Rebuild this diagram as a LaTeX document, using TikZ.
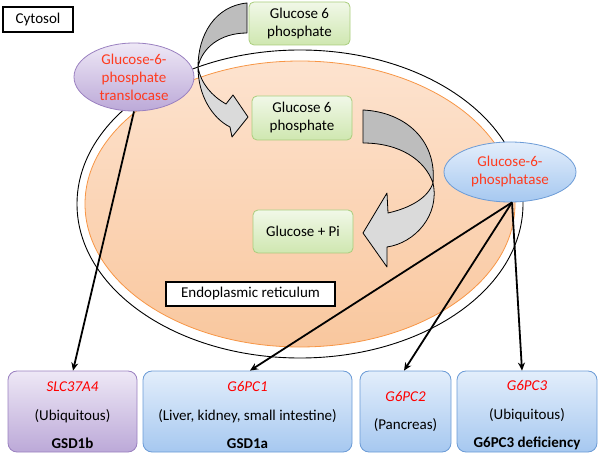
\documentclass[tikz,border=0pt]{standalone}
\usepackage{fontspec}
\setmainfont{Carlito}
\usetikzlibrary{shapes.geometric,arrows.meta,calc}
\definecolor{grnbd}{HTML}{A9CD7C}
\definecolor{grntop}{HTML}{F1F8E8}
\definecolor{grnbot}{HTML}{CFE7B0}
\definecolor{blubd}{HTML}{6B9BD6}
\definecolor{blutop}{HTML}{E3EEFB}
\definecolor{blubot}{HTML}{A6C8F0}
\definecolor{purbd}{HTML}{9A80C0}
\definecolor{purtop}{HTML}{EEE8F6}
\definecolor{purbot}{HTML}{BCA9D8}
\definecolor{orgbd}{HTML}{F79646}
\definecolor{orgtop}{HTML}{FDE3CF}
\definecolor{orgbot}{HTML}{F9C79E}
\definecolor{enzred}{HTML}{FF3B1F}
\definecolor{genred}{HTML}{FF0000}
\definecolor{arrdark}{HTML}{BDBDBD}
\definecolor{arrlight}{HTML}{DADADA}
\newcommand{\topstrut}{\rule{0pt}{18pt}}
\begin{document}
\begin{tikzpicture}[x=1pt,y=-1pt,
  txt/.style={font=\fontsize{15}{18}\selectfont, align=center, inner sep=0pt},
  gbox/.style={txt, draw=grnbd, line width=0.8pt, rounded corners=5pt, top color=grntop, bottom color=grnbot, minimum width=100pt, minimum height=43pt},
  labbox/.style={txt, draw=black, line width=1.4pt, fill=white, minimum height=24pt},
  bbox/.style={font=\fontsize{15}{28.5}\selectfont, align=center, inner sep=0pt, draw=blubd, line width=0.8pt, rounded corners=9pt, top color=blutop, bottom color=blubot, minimum height=81pt},
  pbox/.style={bbox, draw=purbd, top color=purtop, bottom color=purbot},
  enz/.style={ellipse, txt, text=enzred, line width=0.8pt},
  conn/.style={line width=1.8pt, -{Stealth[length=8pt,width=7pt]}},
  arrpart/.style={draw=black, line width=0.8pt, line join=round}
]
\useasboundingbox (0,0) rectangle (600,457);
% membranes
\draw[line width=0.9pt] (300,204) ellipse [x radius=223pt, y radius=154pt];
\draw[draw=orgbd, line width=0.8pt, top color=orgtop, bottom color=orgbot] (300,204) ellipse [x radius=215pt, y radius=143pt];
% labels
\node[labbox, minimum width=70pt, minimum height=25pt] (cyt) at (38,19.5) {Cytosol};
\node[labbox, minimum width=169pt] (er) at (250.5,294) {Endoplasmic reticulum};
% metabolites
\node[gbox, minimum width=101pt] (g6a) at (299.5,23.5) {Glucose 6\\phosphate};
\node[gbox, minimum height=44pt] (g6b) at (302,118) {Glucose 6\\phosphate};
\node[gbox] (gpi) at (303,231.5) {Glucose + Pi};
% curved arrows
\path[arrpart, fill=arrdark] (247,3) .. controls (215,6) and (198,35) .. (198,67) .. controls (202,48) and (220,33) .. (247,33) -- cycle;
\path[arrpart, fill=arrlight] (198,67) .. controls (198,95) and (212,118) .. (230,127) -- (232,137) -- (248,117) -- (233,95) -- (226,104) .. controls (212,96) and (201,84) .. (198,67) -- cycle;
\path[arrpart, fill=arrdark] (363,110) .. controls (405,112) and (437,140) .. (433,183) .. controls (425,160) and (400,143) .. (363,143) -- cycle;
\path[arrpart, fill=arrlight] (433,183) .. controls (440,215) and (415,243) .. (387,247) -- (387,267) -- (363,233) -- (387,193) -- (388,213) .. controls (410,208) and (428,198) .. (433,183) -- cycle;
% enzymes
\node[enz, draw=purbd, top color=purtop, bottom color=purbot, minimum width=120pt, minimum height=68pt] (tl) at (134,77) {Glucose-6-\\phosphate\\translocase};
\node[enz, draw=blubd, top color=blutop, bottom color=blubot, minimum width=132pt, minimum height=60pt] (ph) at (510,172) {Glucose-6-\\phosphatase};
% genes
\node[pbox, minimum width=129pt] (slc) at (72.5,411.5) {\topstrut\textcolor{genred}{\itshape SLC37A4}\\(Ubiquitous)\\\textbf{GSD1b}};
\node[bbox, minimum width=209pt] (g1) at (247.5,411.5) {\topstrut\textcolor{genred}{\itshape G6PC1}\\(Liver, kidney, small intestine)\\\textbf{GSD1a}};
\node[bbox, minimum width=91pt] (g2) at (405.5,411.5) {\textcolor{genred}{\itshape G6PC2}\\(Pancreas)};
\node[bbox, minimum width=140pt] (g3) at (527,411.5) {\topstrut\textcolor{genred}{\itshape G6PC3}\\(Ubiquitous)\\\textbf{G6PC3 deficiency}};
% connectors
\coordinate (phs) at ([xshift=2pt]ph.south);
\draw[conn] (tl.south) -- ([xshift=0.5pt]slc.north);
\draw[conn] (phs) -- ([xshift=2.5pt]g1.north);
\draw[conn] (phs) -- ([xshift=-1.5pt]g2.north);
\draw[conn] (phs) -- ([xshift=-5pt]g3.north);
\end{tikzpicture}
\end{document}
